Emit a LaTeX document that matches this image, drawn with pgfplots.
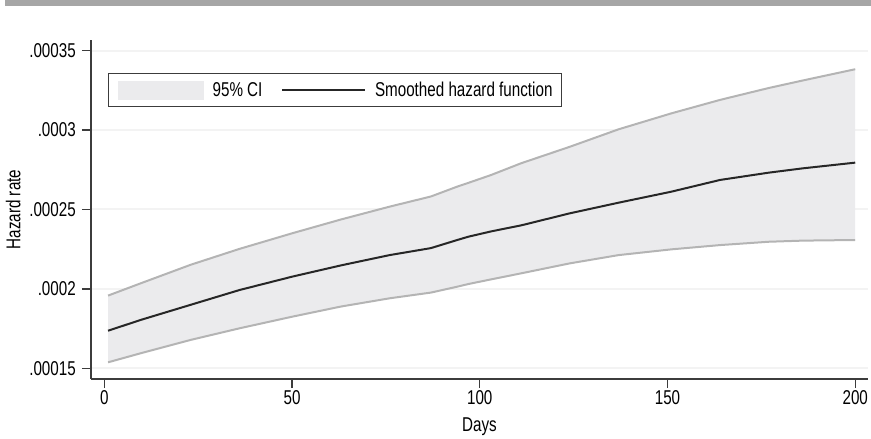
\documentclass[border=0pt]{standalone}
\usepackage{pgfplots}
\pgfplotsset{compat=1.18}
\usepackage{fontspec}
\setmainfont{Liberation Sans}[FakeStretch=0.76]
\definecolor{cifill}{HTML}{EBEBED}
\definecolor{ciline}{HTML}{B4B4B4}
\definecolor{midline}{HTML}{262626}
\definecolor{gridc}{HTML}{F3F3F3}
\definecolor{spine}{HTML}{3C3C3C}
\definecolor{topbar}{HTML}{A6A6A6}
\pgfplotstableread{
day lower mid upper
1 0.0001538 0.0001737 0.0001958
10 0.0001597 0.0001807 0.0002038
23 0.0001679 0.0001900 0.0002152
36 0.0001752 0.0001993 0.0002252
50 0.0001825 0.0002077 0.0002350
63 0.0001889 0.0002148 0.0002437
76 0.0001941 0.0002213 0.0002518
87 0.0001977 0.0002257 0.0002582
94 0.0002014 0.0002308 0.0002644
97 0.0002031 0.0002329 0.0002668
103 0.0002060 0.0002362 0.0002717
111 0.0002098 0.0002400 0.0002791
124 0.0002161 0.0002476 0.0002895
137 0.0002213 0.0002543 0.0003005
151 0.0002249 0.0002612 0.0003105
164 0.0002276 0.0002686 0.0003190
177 0.0002297 0.0002732 0.0003265
186 0.0002304 0.0002759 0.0003312
200 0.0002308 0.0002795 0.0003383
}\hazard
% CI band outline: upper bound forward, lower bound backward
\pgfplotstableread{
day band
1 0.0001958
10 0.0002038
23 0.0002152
36 0.0002252
50 0.0002350
63 0.0002437
76 0.0002518
87 0.0002582
94 0.0002644
97 0.0002668
103 0.0002717
111 0.0002791
124 0.0002895
137 0.0003005
151 0.0003105
164 0.0003190
177 0.0003265
186 0.0003312
200 0.0003383
200 0.0002308
186 0.0002304
177 0.0002297
164 0.0002276
151 0.0002249
137 0.0002213
124 0.0002161
111 0.0002098
103 0.0002060
97 0.0002031
94 0.0002014
87 0.0001977
76 0.0001941
63 0.0001889
50 0.0001825
36 0.0001752
23 0.0001679
10 0.0001597
1 0.0001538
}\band
\begin{document}
\begin{tikzpicture}[x=1pt,y=1pt]
\useasboundingbox (0,0) rectangle (871,439);
\fill[topbar] (5,433) rectangle (871,439);
\begin{axis}[
  at={(91pt,60pt)}, anchor=south west,
  scale only axis, width=777pt, height=339pt,
  xmin=-3.54, xmax=203.4, ymin=0.0001433, ymax=0.0003567,
  axis lines*=left,
  axis line style={spine, line width=1.4pt},
  tick align=outside, major tick length=9pt,
  tick style={spine, line width=1.2pt},
  scaled y ticks=false,
  xtick={0,50,100,150,200},
  xticklabels={\mbox{0},\mbox{50},\mbox{100},\mbox{150},\mbox{200}},
  ytick={0.00015,0.0002,0.00025,0.0003,0.00035},
  yticklabels={\mbox{.00015},\mbox{.0002},\mbox{.00025},\mbox{.0003},\mbox{.00035}},
  ymajorgrids, grid style={gridc, line width=2pt},
  every tick label/.append style={font=\fontsize{20}{22}\selectfont, inner sep=0pt},
  yticklabel style={anchor=east, xshift=-6pt},
  xticklabel style={anchor=north, yshift=-2pt},
  xlabel={Days}, ylabel={Hazard rate},
  label style={font=\fontsize{20}{22}\selectfont, inner sep=0pt},
  xlabel style={at={(axis description cs:0.5,-0.1563)}, anchor=base},
  ylabel style={at={(axis description cs:-0.1001,0.5)}, anchor=center},
  legend columns=2,
  legend cell align=left,
  legend style={at={(axis description cs:0.02188,0.9027)}, anchor=north west,
    draw=spine, line width=1.2pt, inner xsep=9pt, inner ysep=7pt,
    font=\fontsize{20}{22}\selectfont,
    nodes={inner sep=0pt},
    /tikz/every odd column/.style={column sep=9pt},
    /tikz/every even column/.style={column sep=19pt}},
]
\addplot[fill=cifill, draw=none, legend image code/.code={\fill[cifill] (0pt,-9.5pt) rectangle (86pt,9.5pt);}] table[x=day,y=band]{\band} -- cycle;
\addlegendentry{95\% CI}
\addplot[ciline, line width=2pt, forget plot] table[x=day,y=upper]{\hazard};
\addplot[ciline, line width=2pt, forget plot] table[x=day,y=lower]{\hazard};
\addplot[midline, line width=2pt, legend image code/.code={\draw[midline, line width=1.6pt] (0pt,0pt) -- (83pt,0pt);}] table[x=day,y=mid]{\hazard};
\addlegendentry{Smoothed hazard function\hspace{9pt}}
\end{axis}
\end{tikzpicture}
\end{document}
